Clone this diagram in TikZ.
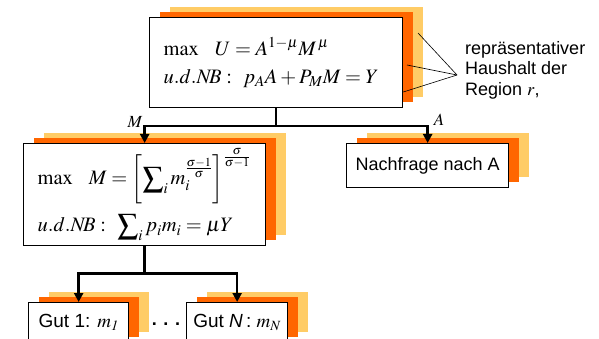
\documentclass[tikz,border=0pt]{standalone}
\usepackage{amsmath}
\usepackage{mathptmx}
\usepackage[no-math]{fontspec}
\setmainfont{Liberation Sans}
\usetikzlibrary{
    arrows.meta,
    positioning,
    shadows,
    calc,
}
\definecolor{layerOrange}{RGB}{255,102,0}
\definecolor{layerGold}{RGB}{255,204,102}

\begin{document}
\begin{tikzpicture}[x=1pt, y=-1pt,
        stack/.style={draw, line width=1.3pt, fill=white, anchor=north west,
            general shadow={fill=layerGold, shadow xshift=20pt, shadow yshift=11pt},
            general shadow={fill=layerOrange, shadow xshift=10pt, shadow yshift=5.5pt}},
        mathbox/.style={stack, inner xsep=14pt, align=left, font=\fontsize{20.5}{24}\selectfont},
        plain/.style={stack, inner sep=2pt, font=\fontsize{18}{21}\selectfont},
        branch/.style={line width=2.4pt},
        arrow/.style={branch, -{Triangle[length=9pt, width=9pt]}},
        lab/.style={inner sep=0pt, font=\fontsize{17}{20}\selectfont},
        note/.style={inner sep=0pt, align=left, font=\fontsize{18}{20.5}\selectfont},
    ]
    \useasboundingbox (0,0) rectangle (599,339);
    \clip (0,0) rectangle (599,339);

    % Household of region r
    \node[mathbox, text width=225pt, minimum height=90pt] (util) at (149,17)
        {\mbox{$\max\ \ U = A^{1-\mu}M^{\,\mu}$}\\[4pt]
         \mbox{$u.d.N\!B:\ p_{A}A + P_{M}M = Y$}};

    % Lower level
    \node[mathbox, text width=214pt, minimum height=102pt] (dixit) at (23,143)
        {\mbox{$\max\ \ M = \left[\displaystyle\sum\nolimits_i m_i^{\frac{\sigma-1}{\sigma}}\right]^{\frac{\sigma}{\sigma-1}}$}\\[9pt]
         \mbox{$u.d.N\!B:\ \displaystyle\sum\nolimits_i p_i m_i = \mu Y$}};
    \node[plain, minimum width=162pt, minimum height=44pt] (demA) at (346,143) {Nachfrage nach A};

    % Goods
    \node[plain, font=\fontsize{19}{22}\selectfont, minimum width=100pt, minimum height=40pt] (gut1) at (28,302) {Gut 1: $m_{\mathit{1}}$};
    \node[plain, font=\fontsize{19}{22}\selectfont, minimum width=101pt, minimum height=40pt] (gutN) at (186,302) {Gut \textit{N}\,: $m_N$};
    \node[font=\fontsize{18}{20}\selectfont\bfseries, inner sep=0pt, anchor=base] (dots) at (166,325) {. . .};

    % Branches
    \draw[branch] (util.south) -- ++(0,18) coordinate (split);
    \draw[arrow] (split) -| (dixit.north);
    \draw[arrow] (split) -| (demA.north);
    \node[lab, anchor=east] (labM) at ($(dixit.north |- split)+(-2,-4)$) {$M$};
    \node[lab, anchor=south west] (labA) at ($(demA.north |- split)+(6,-1)$) {$A$};

    \draw[branch] (dixit.south) -- ++(0,27) coordinate (split2);
    \draw[arrow] (split2) -| (gut1.north);
    \draw[arrow] (split2) -| (gutN.north);

    % Annotation
    \coordinate (apex) at (457,75);
    \coordinate (layGold) at (418,33);
    \coordinate (layOrange) at (407,65);
    \coordinate (layWhite) at (util.east |- 0,92);
    \foreach \c in {layGold, layOrange, layWhite}
        \draw[line width=0.6pt] (\c) -- (apex);
    \node[note, anchor=north west] (haushalt) at (465,41)
        {repräsentativer\\Haushalt der\\Region $r$,};
\end{tikzpicture}
\end{document}
